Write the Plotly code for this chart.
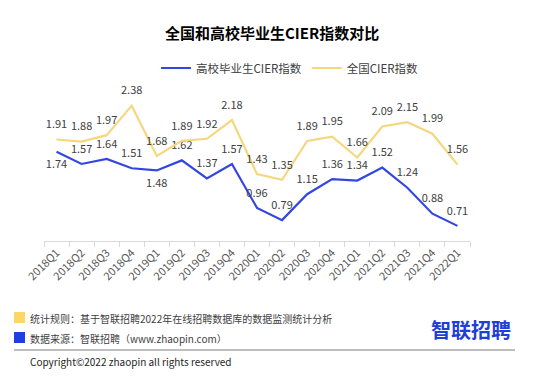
import plotly.graph_objects as go

categories = ["2018Q1","2018Q2","2018Q3","2018Q4","2019Q1","2019Q2","2019Q3","2019Q4",
              "2020Q1","2020Q2","2020Q3","2020Q4","2021Q1","2021Q2","2021Q3","2021Q4","2022Q1"]
graduates = [1.74,1.57,1.64,1.51,1.48,1.62,1.37,1.57,0.96,0.79,1.15,1.36,1.34,1.52,1.24,0.88,0.71]
national = [1.91,1.88,1.97,2.38,1.68,1.89,1.92,2.18,1.43,1.35,1.89,1.95,1.66,2.09,2.15,1.99,1.56]
grad_label_pos = ["bottom center","top center","top center","top center","bottom center","top center",
                  "top center","top center","top center","top center","top center","top center",
                  "top center","top center","top center","top center","top center"]

W, H = 558, 392
def px(x): return x / W
def py(y): return 1 - y / H

FONT = "Noto Sans CJK SC, Lato, sans-serif"
BLUE = "#3347e0"
YELLOW = "#f5d77e"

fig = go.Figure()
fig.add_trace(go.Scatter(
    x=categories, y=graduates, name="高校毕业生CIER指数", mode="lines+markers+text",
    line=dict(color=BLUE, width=2.2), cliponaxis=False,
    marker=dict(size=12, color="rgba(0,0,0,0)"),
    text=[f"{v:.2f}" for v in graduates], textposition=grad_label_pos,
    textfont=dict(size=11, color="#404040", family=FONT),
))
fig.add_trace(go.Scatter(
    x=categories, y=national, name="全国CIER指数", mode="lines+markers+text",
    line=dict(color=YELLOW, width=2.2), cliponaxis=False,
    marker=dict(size=12, color="rgba(0,0,0,0)"),
    text=[f"{v:.2f}" for v in national], textposition="top center",
    textfont=dict(size=11, color="#404040", family=FONT),
))

fig.update_layout(
    width=W, height=H, margin=dict(l=0, r=0, t=0, b=0, autoexpand=False),
    paper_bgcolor="white", plot_bgcolor="white",
    font=dict(family=FONT, color="#404040"),
    showlegend=True,
    legend=dict(orientation="h", x=px(290), y=py(68), xanchor="center", yanchor="middle",
                font=dict(size=11.5, color="#404040", family=FONT), itemwidth=30,
                bgcolor="rgba(0,0,0,0)"),
    xaxis=dict(domain=[px(44), px(470)], type="category", range=[-0.5, 16.5], automargin=False,
               showgrid=False, showline=True, linecolor="#d9d9d9", linewidth=1,
               ticks="outside", tickson="boundaries", ticklen=5, tickcolor="#d9d9d9",
               tickangle=-45, tickfont=dict(size=11, color="#595959", family=FONT)),
    yaxis=dict(domain=[py(241), py(89.8)], range=[0.5, 2.6], visible=False, showgrid=False,
               automargin=False),
)

annotations = [
    dict(text="<b>全国和高校毕业生CIER指数对比</b>", x=px(272), y=py(33), xref="paper", yref="paper",
         showarrow=False, font=dict(size=15, color="#000000", family=FONT), xanchor="center", yanchor="middle"),
    dict(text="统计规则：基于智联招聘2022年在线招聘数据库的数据监测统计分析", x=px(28), y=py(318),
         xref="paper", yref="paper", showarrow=False, xanchor="left", yanchor="middle",
         font=dict(size=10, color="#404040", family=FONT)),
    dict(text="数据来源：智联招聘（www.zhaopin.com）", x=px(28), y=py(338),
         xref="paper", yref="paper", showarrow=False, xanchor="left", yanchor="middle",
         font=dict(size=10, color="#404040", family=FONT)),
    dict(text="Copyright©2022 zhaopin all rights reserved", x=px(28), y=py(361),
         xref="paper", yref="paper", showarrow=False, xanchor="left", yanchor="middle",
         font=dict(size=10, color="#262626", family=FONT)),
    dict(text="<b>智联招聘</b>", x=px(471), y=py(329), xref="paper", yref="paper", showarrow=False,
         xanchor="center", yanchor="middle", font=dict(size=20, color="#1f3fd6", family=FONT)),
]
fig.update_layout(annotations=annotations)

shapes = [
    dict(type="rect", xref="paper", yref="paper", x0=px(14), x1=px(25), y0=py(323), y1=py(312),
         fillcolor="#fcd667", line=dict(width=0)),
    dict(type="rect", xref="paper", yref="paper", x0=px(14), x1=px(25), y0=py(343), y1=py(332),
         fillcolor="#1f3fe6", line=dict(width=0)),
    dict(type="line", xref="paper", yref="paper", x0=px(14), x1=px(515), y0=py(350), y1=py(350),
         line=dict(color="#7f7f7f", width=1)),
]
fig.update_layout(shapes=shapes)

fig.write_html("out.html", config={"displayModeBar": False},
               post_script="document.body.style.margin='0';document.body.style.overflow='hidden';")
